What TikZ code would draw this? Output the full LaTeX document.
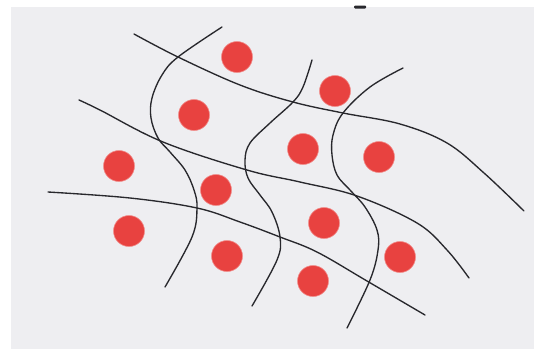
\documentclass[tikz,border=0pt]{standalone}
\definecolor{paper}{RGB}{238,238,241}
\definecolor{dotred}{RGB}{232,66,64}
\definecolor{ink}{RGB}{40,40,45}
\tikzset{
  dot/.style={circle,fill=dotred,draw=dotred!60!white,line width=0.6pt,minimum size=31pt,inner sep=0pt},
  wave/.style={draw=ink,line width=1.35pt,line cap=round,smooth,tension=0.6}
}
\begin{document}
\begin{tikzpicture}[x=1pt,y=-1pt]
\useasboundingbox (0,0) rectangle (534,349);
\fill[white] (0,0) rectangle (534,349);
\fill[paper] (11,7) rectangle (534,349);
\fill[ink,rounded corners=1pt] (354,5.5) rectangle (366,8.5);
% horizontal-ish lines
\draw[wave] plot coordinates {(134,34) (178,57) (240,85) (293,102) (343,113) (400,124) (447,143) (484,173) (524,211)};
\draw[wave] plot coordinates {(79,100) (100,110) (163,142) (247,170) (300,182) (357,196) (417,223) (447,250) (469,278)};
\draw[wave] plot coordinates {(48,192) (130,198) (197,208) (240,222) (280,237) (317,252) (367,281) (425,315)};
% vertical-ish lines
\draw[wave] plot coordinates {(222,27) (178,57) (162,75) (152,98) (151,118) (158,138) (170,152) (185,170) (194,190) (197,208) (192,237) (165,287)};
\draw[wave] plot coordinates {(312,60) (303,87) (293,102) (270,123) (250,143) (245,160) (248,178) (260,195) (272,212) (280,237) (277,260) (252,306)};
\draw[wave] plot coordinates {(403,68) (370,87) (343,113) (333,135) (332,155) (337,175) (350,190) (365,207) (377,230) (378,250) (370,280) (347,328)};
% dots
\node[dot] (d1) at (237,57) {};
\node[dot] (d2) at (335,91) {};
\node[dot] (d3) at (194,115) {};
\node[dot] (d4) at (303,149) {};
\node[dot] (d5) at (379,157) {};
\node[dot] (d6) at (119,166) {};
\node[dot] (d7) at (216,190) {};
\node[dot] (d8) at (324,223) {};
\node[dot] (d9) at (129,231) {};
\node[dot] (d10) at (227,256) {};
\node[dot] (d11) at (400,257) {};
\node[dot] (d12) at (313,281) {};
\end{tikzpicture}
\end{document}
